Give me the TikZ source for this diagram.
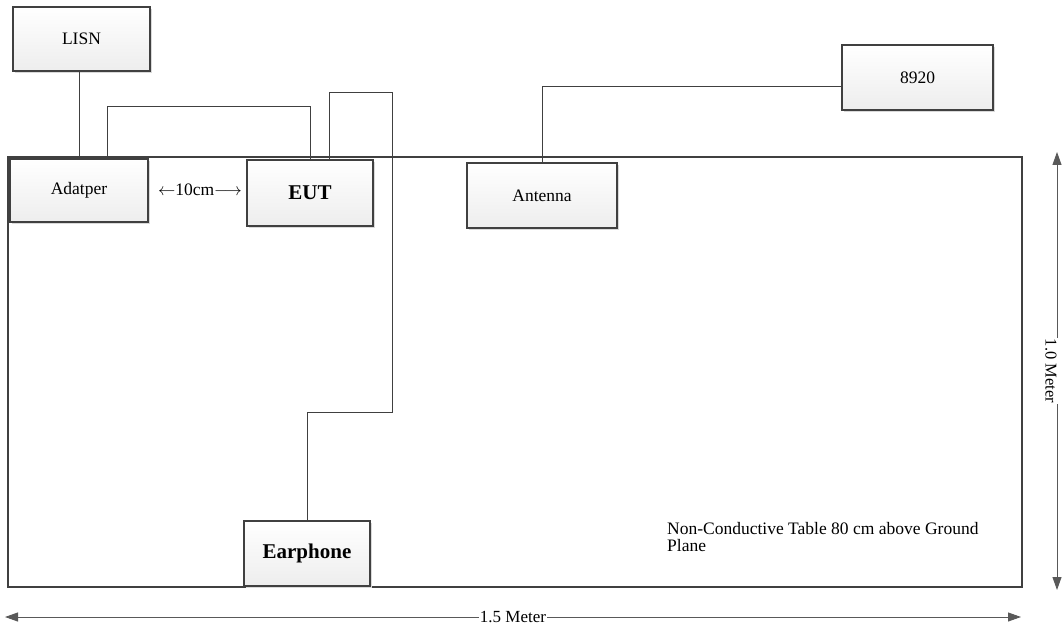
\documentclass[tikz,border=0pt]{standalone}
\usepackage{fontspec}
\setmainfont{Liberation Serif}
\usetikzlibrary{arrows.meta,shadows}
\definecolor{edge}{HTML}{404040}
\tikzset{
  box/.style={draw=edge, line width=1.1pt, top color=white, bottom color=gray!14,
    general shadow={shadow xshift=2pt, shadow yshift=-2pt, fill=gray!30},
    inner sep=0pt, font=\fontsize{17.5}{20}\selectfont},
  boldbox/.style={box, font=\fontsize{21}{24}\selectfont\bfseries},
  wire/.style={draw=edge, line width=1pt},
  dim/.style={draw=gray!70!black, line width=0.9pt, {Triangle[length=13pt,width=9pt]}-{Triangle[length=13pt,width=9pt]}},
  lbl/.style={font=\fontsize{17}{19}\selectfont, inner sep=1pt, fill=white}
}
\begin{document}
\begin{tikzpicture}[x=1pt,y=-1pt]
\useasboundingbox (0,0) rectangle (1062,628);
\draw[draw=edge, line width=2pt] (8,157) rectangle (1022,587);
\node[box, minimum width=137pt, minimum height=64pt] (lisn) at (81.5,39) {LISN};
\node[box, minimum width=138pt, minimum height=63pt] (adapter) at (79,190.5) {Adatper};
\node[boldbox, minimum width=126pt, minimum height=66pt] (eut) at (310,193) {EUT};
\node[box, minimum width=150pt, minimum height=65pt] (ant) at (542,195.5) {Antenna};
\node[box, minimum width=151pt, minimum height=65pt] (n8920) at (917.5,77.5) {8920};
\node[boldbox, minimum width=126pt, minimum height=65pt] (ear) at (307,553.5) {Earphone};
\node[font=\fontsize{17.5}{20}\selectfont, inner sep=0pt] (gap) at (200,190) {$\leftarrow$10cm$\longrightarrow$};
\coordinate (c1) at (392,93);
\coordinate (c2) at (392,412);
\draw[wire] (adapter.north |- lisn.south) -- (adapter.north);
\draw[wire] ([xshift=28pt]adapter.north) -- ++(0,-52) -| (eut.north);
\draw[wire] ([xshift=19pt]eut.north) |- (c1) -- (c2) -| (ear.north);
\draw[wire] (ant.north) |- ([yshift=-9.5pt]n8920.west);
\node[font=\fontsize{17.5}{17.5}\selectfont, align=left, anchor=north west, inner sep=0pt] (note) at (667,522) {Non-Conductive Table 80 cm above Ground\\Plane};
\coordinate (v1) at (1057,152);
\coordinate (v2) at (1057,590);
\draw[dim] (v1) -- (v2);
\node[lbl, font=\fontsize{16.5}{18}\selectfont, rotate=-90] (vl) at (1051,371) {1.0 Meter};
\coordinate (h1) at (5,617);
\coordinate (h2) at (1021,617);
\draw[dim] (h1) -- node[lbl] (hl) {1.5 Meter} (h2);
\end{tikzpicture}
\end{document}
